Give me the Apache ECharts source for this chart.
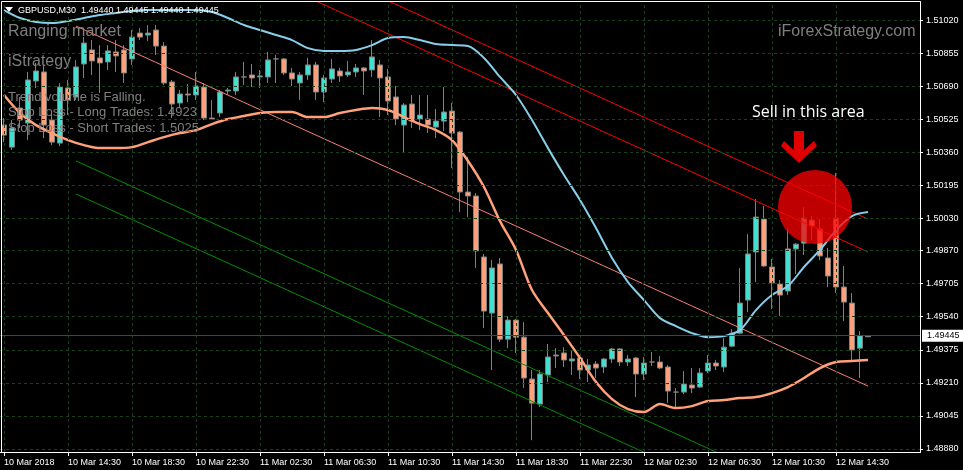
<!DOCTYPE html>
<html><head><meta charset="utf-8">
<script src="https://cdn.jsdelivr.net/npm/echarts@6/dist/echarts.min.js"></script>
<style>html,body{margin:0;padding:0;background:#000;}#c{width:963px;height:470px;}</style>
</head><body><div id="c"></div>
<script>
// ---- DATA (GBPUSD M30) ----
const opens = [1.50496,1.50386,1.50581,1.50506,1.50716,1.50761,1.50521,1.50406,1.50681,1.50636,
1.50801,1.50871,1.50831,1.50811,1.50861,1.50871,1.50826,1.50955,1.50945,1.50970,
1.50890,1.50711,1.50606,1.50651,1.50646,1.50686,1.50531,1.50556,1.50666,1.50666,
1.50736,1.50746,1.50736,1.50736,1.50826,1.50826,1.50756,1.50706,1.50746,1.50796,
1.50661,1.50726,1.50766,1.50746,1.50761,1.50781,1.50771,1.50796,1.50736,1.50636,
1.50496,1.50601,1.50526,1.50526,1.50486,1.50516,1.50566,1.50461,1.50162,1.50142,
1.49838,1.49558,1.49803,1.49428,1.49523,1.49438,1.49229,1.49104,1.49249,1.49344,
1.49359,1.49319,1.49334,1.49274,1.49304,1.49289,1.49329,1.49379,1.49314,1.49334,
1.49254,1.49314,1.49314,1.49289,1.49164,1.49164,1.49199,1.49189,1.49269,1.49309,
1.49289,1.49393,1.49458,1.49623,1.49863,1.50027,1.49788,1.49703,1.49668,1.49878,
1.49907,1.50022,1.49977,1.49833,1.50032,1.49688,1.49608,1.49383,1.49440];
const closes = [1.50446,1.50481,1.50521,1.50721,1.50766,1.50496,1.50411,1.50686,1.50621,1.50786,
1.50905,1.50816,1.50806,1.50866,1.50841,1.50756,1.50935,1.50935,1.50955,1.50890,
1.50706,1.50601,1.50651,1.50646,1.50691,1.50531,1.50526,1.50661,1.50671,1.50736,
1.50736,1.50731,1.50741,1.50821,1.50826,1.50756,1.50726,1.50746,1.50796,1.50661,
1.50731,1.50776,1.50741,1.50761,1.50781,1.50766,1.50836,1.50731,1.50616,1.50526,
1.50596,1.50516,1.50546,1.50496,1.50516,1.50561,1.50456,1.50162,1.50142,1.49868,
1.49568,1.49783,1.49428,1.49523,1.49438,1.49234,1.49109,1.49254,1.49339,1.49349,
1.49324,1.49329,1.49274,1.49299,1.49284,1.49329,1.49379,1.49314,1.49329,1.49254,
1.49309,1.49314,1.49284,1.49169,1.49164,1.49204,1.49184,1.49259,1.49309,1.49294,
1.49388,1.49458,1.49608,1.49853,1.50037,1.49793,1.49708,1.49648,1.49878,1.49902,
1.50032,1.49992,1.49843,1.49743,1.49688,1.49613,1.49374,1.49445,1.49445];
const lows = [1.50411,1.50372,1.50481,1.50421,1.50681,1.50431,1.50396,1.50391,1.50546,1.50621,
1.50731,1.50746,1.50656,1.50771,1.50761,1.50706,1.50796,1.50920,1.50915,1.50846,
1.50696,1.50531,1.50581,1.50611,1.50621,1.50521,1.50521,1.50536,1.50646,1.50646,
1.50696,1.50686,1.50681,1.50706,1.50706,1.50746,1.50691,1.50621,1.50721,1.50621,
1.50611,1.50706,1.50711,1.50736,1.50736,1.50646,1.50736,1.50536,1.50546,1.50496,
1.50357,1.50481,1.50471,1.50456,1.50431,1.50466,1.50282,1.50062,1.50037,1.49783,
1.49483,1.49274,1.49413,1.49383,1.49359,1.49184,1.48924,1.49089,1.49214,1.49284,
1.49289,1.49249,1.49229,1.49214,1.49234,1.49259,1.49309,1.49294,1.49294,1.49139,
1.49224,1.49294,1.49279,1.49109,1.49084,1.49154,1.49159,1.49184,1.49259,1.49274,
1.49264,1.49388,1.49453,1.49563,1.49713,1.49788,1.49578,1.49543,1.49648,1.49753,
1.49848,1.49922,1.49823,1.49688,1.49658,1.49518,1.49319,1.49234,1.49440];
const highs = [1.50531,1.50521,1.50636,1.50761,1.50806,1.50796,1.50561,1.50706,1.50721,1.50821,
1.50935,1.50920,1.50895,1.50895,1.50920,1.50895,1.50970,1.50980,1.50995,1.50995,
1.50910,1.50721,1.50671,1.50701,1.50761,1.50706,1.50621,1.50671,1.50681,1.50761,
1.50811,1.50801,1.50771,1.50861,1.50846,1.50831,1.50781,1.50761,1.50831,1.50811,
1.50746,1.50826,1.50781,1.50816,1.50801,1.50786,1.50920,1.50821,1.50776,1.50691,
1.50606,1.50646,1.50646,1.50646,1.50576,1.50686,1.50606,1.50466,1.50337,1.50157,
1.49853,1.49823,1.49833,1.49543,1.49528,1.49513,1.49274,1.49274,1.49404,1.49383,
1.49388,1.49374,1.49349,1.49329,1.49319,1.49334,1.49383,1.49383,1.49349,1.49339,
1.49339,1.49364,1.49344,1.49299,1.49184,1.49269,1.49284,1.49284,1.49349,1.49324,
1.49433,1.49478,1.49783,1.49952,1.50127,1.50092,1.49828,1.49723,1.49982,1.49907,
1.50087,1.50042,1.50027,1.49883,1.50257,1.49793,1.49658,1.49468,1.49445];

const bandBars = [0,2,4,6,8,10,12,14,16,18,20,22,24,26,28,30,32,34,36,38,40,42,44,46,48,50,52,54,56,58,
60,62,64,66,68,70,72,74,76,78,80,82,84,86,88,90,92,94,96,98,100,102,104,106,108];
const upperBand = [1.51070,1.51030,1.51010,1.51005,1.51015,1.51030,1.51045,1.51055,1.51065,1.51070,
1.51070,1.51070,1.51070,1.51060,1.51030,1.50995,1.50970,1.50945,1.50920,1.50880,
1.50866,1.50866,1.50871,1.50895,1.50930,1.50935,1.50920,1.50900,1.50895,1.50890,
1.50831,1.50736,1.50646,1.50521,1.50381,1.50247,1.50122,1.49982,1.49833,1.49713,
1.49623,1.49533,1.49493,1.49458,1.49438,1.49443,1.49473,1.49573,1.49648,1.49693,
1.49788,1.49873,1.49972,1.50042,1.50062];
const lowerBand = [1.50646,1.50556,1.50496,1.50456,1.50421,1.50396,1.50381,1.50381,1.50386,1.50411,
1.50436,1.50456,1.50471,1.50501,1.50526,1.50541,1.50556,1.50561,1.50561,1.50536,
1.50536,1.50556,1.50571,1.50581,1.50571,1.50536,1.50501,1.50471,1.50421,1.50317,
1.50187,1.50017,1.49873,1.49673,1.49558,1.49448,1.49334,1.49214,1.49129,1.49079,
1.49064,1.49104,1.49084,1.49094,1.49119,1.49124,1.49134,1.49139,1.49159,1.49189,
1.49234,1.49284,1.49314,1.49319,1.49324];

const channelBars = [9, 108];
const channelMid = [1.50990, 1.49194];
const channelRedUpper = [1.51824, 1.50027];
const channelRedLower = [1.51659, 1.49863];
const channelGreenUpper = [1.50317, 1.48520];
const channelGreenLower = [1.50152, 1.48356];

const priceTicks = [1.51020,1.50855,1.50690,1.50525,1.50360,1.50195,1.50030,1.49870,1.49705,1.49540,1.49375,1.49210,1.49045,1.48880];
const timeTicks = ["10 Mar 2018","10 Mar 14:30","10 Mar 18:30","10 Mar 22:30","11 Mar 02:30","11 Mar 06:30","11 Mar 10:30",
"11 Mar 14:30","11 Mar 18:30","11 Mar 22:30","12 Mar 02:30","12 Mar 06:30","12 Mar 10:30","12 Mar 14:30"];
const bidPrice = 1.49445;
const yMin = 1.48865, yMax = 1.51110;
const slotCount = 115;   // bars + empty right margin (chart shift)
const tickEvery = 8;

// ---- build ----
const MON = ['Jan','Feb','Mar','Apr','May','Jun','Jul','Aug','Sep','Oct','Nov','Dec'];
const categories = [];
const t0 = Date.UTC(2018, 2, 10, 10, 30);
for (let i = 0; i < slotCount; i++) {
  const d = new Date(t0 + i * 1800000);
  const p = n => String(n).padStart(2, '0');
  categories.push(d.getUTCDate() + ' ' + MON[d.getUTCMonth()] + ' ' + p(d.getUTCHours()) + ':' + p(d.getUTCMinutes()));
}
const candles = opens.map((o, i) => [o, closes[i], lows[i], highs[i]]);
const isTick = i => i % tickEvery === 0 && i / tickEvery < timeTicks.length;
const pairs = (xs, ys) => xs.map((x, i) => [x, ys[i]]);
const FONT = 'Liberation Sans';
const GRID = '#1a421a';

function chLine(vals, color) {
  return { type: 'line', data: pairs(channelBars, vals), symbol: 'none', silent: true, clip: true,
    lineStyle: { color: color, width: 1 }, z: 3 };
}

const chart = echarts.init(document.getElementById('c'));
chart.setOption({
  backgroundColor: '#000',
  animation: false,
  grid: { left: -1, right: 43, top: 2, bottom: 18 },
  xAxis: {
    type: 'category', data: categories, boundaryGap: true,
    axisLine: { show: true, lineStyle: { color: '#fff', width: 1 } },
    axisTick: { show: true, alignWithLabel: true, interval: (i) => isTick(i), length: 4, lineStyle: { color: '#fff' } },
    axisLabel: { interval: (i) => isTick(i), formatter: (v, i) => isTick(i) ? timeTicks[i / tickEvery] : '',
      color: '#fff', fontFamily: FONT, fontSize: 9, align: 'left', margin: 6 },
    splitLine: { show: false }
  },
  yAxis: {
    type: 'value', position: 'right', min: yMin, max: yMax,
    axisLine: { show: true, lineStyle: { color: '#fff', width: 1 } },
    axisTick: { show: true, length: 3, customValues: priceTicks, lineStyle: { color: '#fff' } },
    axisLabel: { customValues: priceTicks, formatter: v => v.toFixed(5), color: '#fff', fontFamily: FONT, fontSize: 9, margin: 6,
      showMinLabel: true, showMaxLabel: true },
    splitLine: { show: false }
  },
  series: [
    { type: 'line', data: pairs(channelBars, channelMid), z: 1, silent: true, symbol: 'none', lineStyle: { opacity: 0 },
      markLine: { symbol: 'none', silent: true, precision: 6, label: { show: false }, animation: false,
        lineStyle: { type: [3, 3], color: GRID, width: 1 },
        data: priceTicks.map(v => ({ yAxis: v })).concat(
          categories.map((c, i) => i).filter(isTick).map(i => ({ xAxis: categories[i] }))) } },
    { type: 'line', data: pairs(channelBars, channelMid), z: 1, silent: true, symbol: 'none', lineStyle: { opacity: 0 },
      markLine: { symbol: 'none', silent: true, precision: 6, animation: false,
        lineStyle: { type: 'solid', color: '#1d5e1d', width: 1 },
        label: { show: true, position: 'end', formatter: bidPrice.toFixed(5), backgroundColor: '#fff', color: '#000',
          fontFamily: FONT, fontSize: 9, padding: [2, 4, 1, 5], distance: 2 },
        data: [{ yAxis: bidPrice }] } },
    { type: 'candlestick', data: candles, barWidth: 5, silent: true, z: 2,
      itemStyle: { color: '#40E0D0', color0: '#FFA07A', borderColor: '#808080', borderColor0: '#808080', borderWidth: 1 } },
    chLine(channelRedUpper, '#ff0000'),
    chLine(channelRedLower, '#ff0000'),
    chLine(channelMid, '#fa8072'),
    chLine(channelGreenUpper, '#009000'),
    chLine(channelGreenLower, '#009000'),
    { type: 'line', data: pairs(bandBars, upperBand), symbol: 'none', smooth: 0.3, silent: true, z: 4,
      lineStyle: { color: '#87CEEB', width: 2 } },
    { type: 'line', data: pairs(bandBars, lowerBand), symbol: 'none', smooth: 0.3, silent: true, z: 4,
      lineStyle: { color: '#FFA07A', width: 2.5 } }
  ],
  graphic: [
    { type: 'rect', z: 100, silent: true, shape: { x: 1.5, y: 1.5, width: 919, height: 451 }, style: { fill: 'none', stroke: '#ffffff', lineWidth: 1 } },
    { type: 'polygon', z: 100, silent: true, shape: { points: [[5, 7], [13, 7], [9, 12]] }, style: { fill: '#ffffff' } },
    { type: 'text', z: 100, x: 18, y: 11, style: { text: 'GBPUSD,M30  1.49440 1.49445 1.49440 1.49445', fill: '#fff', font: '9px "Liberation Sans"', verticalAlign: 'middle', textVerticalAlign: 'middle' } },
    { type: 'text', z: 100, x: 8, y: 32, style: { text: 'Ranging market', fill: '#7f7f7f', font: '16px "Liberation Sans"', verticalAlign: 'middle', textVerticalAlign: 'middle' } },
    { type: 'text', z: 100, x: 8, y: 62, style: { text: 'iStrategy', fill: '#7f7f7f', font: '16px "Liberation Sans"', verticalAlign: 'middle', textVerticalAlign: 'middle' } },
    { type: 'text', z: 100, x: 8, y: 97, style: { text: 'Trend volume is Falling.', fill: '#7f7f7f', font: '13px "Liberation Sans"', verticalAlign: 'middle', textVerticalAlign: 'middle' } },
    { type: 'text', z: 100, x: 8, y: 112.5, style: { text: 'Stop Loss - Long Trades: 1.4923', fill: '#7f7f7f', font: '13px "Liberation Sans"', verticalAlign: 'middle', textVerticalAlign: 'middle' } },
    { type: 'text', z: 100, x: 8, y: 128, style: { text: 'Stop Loss - Short Trades: 1.5025', fill: '#7f7f7f', font: '13px "Liberation Sans"', verticalAlign: 'middle', textVerticalAlign: 'middle' } },
    { type: 'text', z: 100, x: 778, y: 32, style: { text: 'iForexStrategy.com', fill: '#7f7f7f', font: '16px "Liberation Sans"', verticalAlign: 'middle', textVerticalAlign: 'middle' } },
    { type: 'text', z: 100, x: 752, y: 112, style: { text: 'Sell in this area', fill: '#fff', font: '16px "Open Sans"', verticalAlign: 'middle', textVerticalAlign: 'middle' } },
    { type: 'polygon', z: 100, silent: true, shape: { points: [[794,131],[804,131],[804,150],[814,141],[817,146],[799,163],[781,146],[784,141],[794,150]] }, style: { fill: '#e00000' } },
    { type: 'circle', z: 100, silent: true, shape: { cx: 815, cy: 207, r: 37 }, style: { fill: 'rgba(255,0,0,0.75)' } }
  ]
});
</script></body></html>
